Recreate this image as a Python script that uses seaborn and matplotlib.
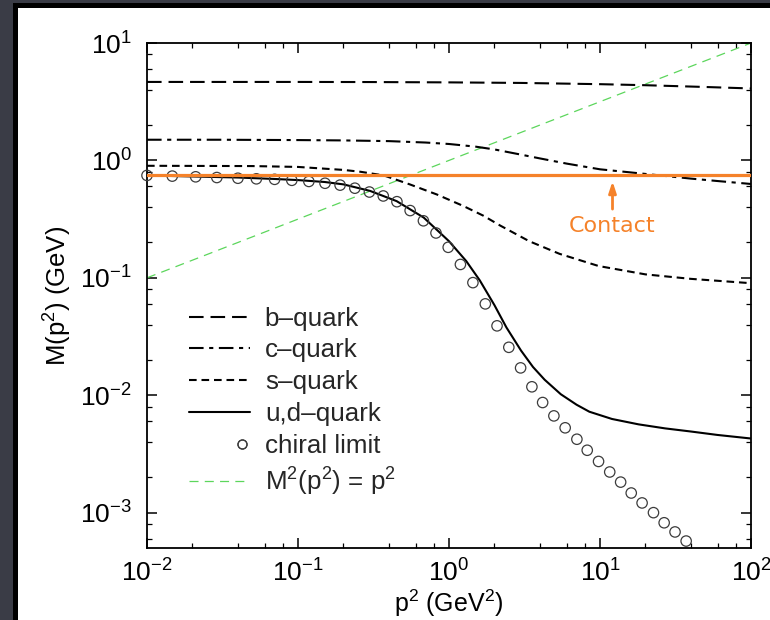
import matplotlib
matplotlib.use("Agg")
import matplotlib.pyplot as plt
from matplotlib.lines import Line2D
from matplotlib.patches import Rectangle
from matplotlib.legend_handler import HandlerLine2D
from matplotlib.ticker import LogLocator, LogFormatterSciNotation, NullFormatter
import seaborn as sns

# Dressed-quark mass function M(p^2) in GeV versus p^2 in GeV^2
p2_b = [0.01, 0.03, 0.1, 0.3, 1.0, 3.0, 10.0, 20.0, 50.0, 100.0]
m_b = [4.66, 4.66, 4.66, 4.65, 4.62, 4.57, 4.46, 4.37, 4.22, 4.10]

p2_c = [0.01, 0.03, 0.1, 0.2, 0.4, 0.7, 1.0, 1.5, 2.0, 3.0, 4.0, 6.0,
        10.0, 16.0, 25.0, 40.0, 62.0, 100.0]
m_c = [1.50, 1.50, 1.49, 1.48, 1.46, 1.42, 1.38, 1.31, 1.24, 1.12, 1.04, 0.94,
       0.84, 0.79, 0.745, 0.70, 0.665, 0.63]

p2_s = [0.01, 0.05, 0.1, 0.2, 0.26, 0.37, 0.55, 0.83, 1.24, 1.69, 2.18, 3.4,
        5.4, 9.8, 20.0, 40.0, 100.0]
m_s = [0.90, 0.895, 0.88, 0.83, 0.80, 0.745, 0.625, 0.513, 0.41, 0.338, 0.279,
       0.205, 0.16, 0.126, 0.107, 0.098, 0.090]

p2_ud = [0.01, 0.02, 0.04, 0.07, 0.1, 0.15, 0.2, 0.3, 0.45, 0.68, 1.0, 1.3, 1.6,
         2.0, 2.4, 3.0, 3.6, 4.3, 5.5, 7.0, 8.5, 12.0, 18.0, 27.0, 40.0, 60.0, 100.0]
m_ud = [0.745, 0.73, 0.715, 0.695, 0.68, 0.655, 0.625, 0.55, 0.45, 0.326, 0.205,
        0.139, 0.095, 0.0585, 0.0378, 0.024, 0.0174, 0.01355, 0.0102, 0.0083,
        0.00724, 0.00628, 0.00565, 0.00522, 0.00491, 0.00459, 0.00428]

p2_chiral = [0.010, 0.0147, 0.021, 0.029, 0.040, 0.053, 0.070, 0.091, 0.118, 0.151,
             0.19, 0.238, 0.297, 0.367, 0.452, 0.553, 0.677, 0.82, 0.988, 1.19,
             1.44, 1.74, 2.08, 2.49, 2.98, 3.54, 4.17, 4.95, 5.88, 7.03, 8.23,
             9.78, 11.6, 13.7, 16.1, 19.0, 22.6, 26.6, 31.4, 37.2]
m_chiral = [0.745, 0.735, 0.725, 0.715, 0.705, 0.697, 0.69, 0.677, 0.662, 0.639,
            0.616, 0.58, 0.538, 0.498, 0.445, 0.374, 0.306, 0.241, 0.182, 0.130,
            0.091, 0.060, 0.039, 0.0256, 0.0171, 0.0118, 0.00867, 0.00667,
            0.00528, 0.00422, 0.0034, 0.00273, 0.00222, 0.00182, 0.00147,
            0.00121, 0.00100, 0.00082, 0.000685, 0.000573]

# Mass-shell line M^2(p^2) = p^2
p2_shell = [0.01, 100.0]
m_shell = [0.1, 10.0]

# Momentum-independent mass of the contact interaction
m_contact = 0.75
contact_label = "Contact"
contact_p2 = 12.1

xlim = (0.01, 100.0)
ylim = (5.0e-4, 10.0)

ORANGE = "#f5822a"
GREEN = "#5cd65c"
INK = "black"
CIRCLE = "#3c3c3c"

sns.set_theme(style="ticks")
plt.rcParams["font.family"] = ["Liberation Sans", "DejaVu Sans"]
plt.rcParams["mathtext.fontset"] = "custom"
plt.rcParams["mathtext.rm"] = "Liberation Sans"
plt.rcParams["mathtext.it"] = "Liberation Sans:italic"
plt.rcParams["mathtext.bf"] = "Liberation Sans:bold"
plt.rcParams["lines.scale_dashes"] = False

fig = plt.figure(figsize=(7.7, 6.2), dpi=100, facecolor="#3a3c46")
# white slide panel with a black frame
fig.patches.append(Rectangle((14.5 / 770, -0.05), 1.2, 1.05 - 5.5 / 620,
                             transform=fig.transFigure, facecolor="white",
                             edgecolor="black", lw=3.6, zorder=-1))

ax = fig.add_axes([147 / 770, 1 - 548 / 620, 604 / 770, 505 / 620])
ax.set_facecolor("white")
ax.set_xscale("log")
ax.set_yscale("log")

LW = 1.5
styles = {
    "b": (0, (10.5, 5.0)),
    "c": (0, (10.5, 4.0, 3.0, 4.0)),
    "s": (0, (5.5, 3.5)),
    "ud": "-",
    "shell": (0, (6.5, 4.5)),
}

curves = [
    (p2_b, m_b, styles["b"]),
    (p2_c, m_c, styles["c"]),
    (p2_s, m_s, styles["s"]),
    (p2_ud, m_ud, styles["ud"]),
]
for px, my, ls in curves:
    sns.lineplot(x=px, y=my, ax=ax, color=INK, lw=LW, linestyle=ls,
                 estimator=None, errorbar=None, zorder=3)

sns.lineplot(x=p2_shell, y=m_shell, ax=ax, color=GREEN, lw=0.9,
             linestyle=styles["shell"], estimator=None, errorbar=None, zorder=2)

sns.scatterplot(x=p2_chiral, y=m_chiral, ax=ax, marker="o", s=56,
                facecolor="none", edgecolor=CIRCLE, linewidth=0.9,
                zorder=4, clip_on=False)

ax.axhline(m_contact, color=ORANGE, lw=2.3, zorder=5)
ax.annotate("", xy=(contact_p2, 0.665), xytext=(contact_p2, 0.385),
            arrowprops=dict(arrowstyle="-|>,head_length=0.55,head_width=0.18",
                            color=ORANGE, lw=2.0, shrinkA=0, shrinkB=0),
            zorder=6)
ax.text(contact_p2, 0.274, contact_label, color=ORANGE, fontsize=16,
        family=["DejaVu Sans"], ha="center", va="center", zorder=6)

ax.set_xlim(*xlim)
ax.set_ylim(*ylim)

for axis in (ax.xaxis, ax.yaxis):
    axis.set_major_locator(LogLocator(base=10, numticks=10))
    axis.set_minor_locator(LogLocator(base=10, subs=(2, 4, 6, 8), numticks=10))
    axis.set_major_formatter(LogFormatterSciNotation())
    axis.set_minor_formatter(NullFormatter())

ax.tick_params(which="both", direction="in", top=True, right=True, colors=INK)
ax.tick_params(which="major", length=7, width=1.1, labelsize=19)
ax.tick_params(axis="y", which="major", pad=11)
ax.tick_params(axis="x", which="major", pad=8)
ax.tick_params(which="minor", length=3.5, width=0.9)
for sp in ax.spines.values():
    sp.set_visible(True)
    sp.set_color(INK)
    sp.set_linewidth(1.3)

ax.set_xlabel(r"p$^2$ (GeV$^2$)", fontsize=18, color=INK, labelpad=1)
ax.set_ylabel(r"M(p$^2$) (GeV)", fontsize=18.5, color=INK, labelpad=4)


class MarkerAtEnd(HandlerLine2D):
    """Draws the legend marker at the right end of the handle area."""

    def get_xdata(self, legend, xdescent, ydescent, width, height, fontsize):
        xe = -xdescent + width - 6.0
        return [xe, xe], [xe, xe]


handles = [
    Line2D([], [], color=INK, lw=LW, linestyle=styles["b"]),
    Line2D([], [], color=INK, lw=LW, linestyle=styles["c"]),
    Line2D([], [], color=INK, lw=LW, linestyle=styles["s"]),
    Line2D([], [], color=INK, lw=LW, linestyle=styles["ud"]),
    Line2D([], [], color="none", marker="o", markersize=6.5,
           markerfacecolor="none", markeredgecolor=CIRCLE, markeredgewidth=0.9),
    Line2D([], [], color=GREEN, lw=0.9, linestyle=styles["shell"]),
]
labels = ["b\u2013quark", "c\u2013quark", "s\u2013quark", "u,d\u2013quark",
          "chiral limit", r"M$^2$(p$^2$) = p$^2$"]
ax.legend(handles, labels, loc="upper left", bbox_to_anchor=(0.0695, 0.478),
          frameon=False, fontsize=18.7, handlelength=2.35, handletextpad=0.57,
          labelspacing=0.3, borderpad=0, borderaxespad=0,
          handler_map={handles[4]: MarkerAtEnd(numpoints=2)})

fig.savefig("out.png", dpi=100, facecolor=fig.get_facecolor())
